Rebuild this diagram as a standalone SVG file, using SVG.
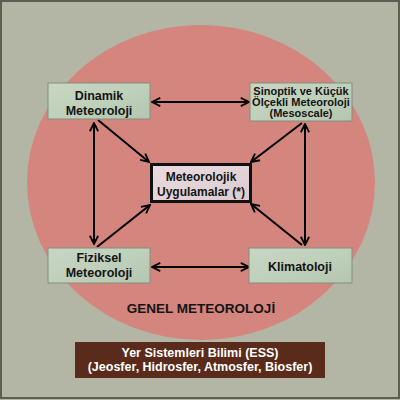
<svg xmlns="http://www.w3.org/2000/svg" width="400" height="400" viewBox="0 0 400 400">
<defs>
<style>
.t{font-family:"Liberation Sans",Arial,sans-serif;font-weight:bold;fill:#141414;text-anchor:middle}
.w{font-family:"Liberation Sans",Arial,sans-serif;font-weight:bold;fill:#ffffff;text-anchor:middle;font-size:12.5px}
.node{fill:url(#ng);stroke:#7f8f7c;stroke-width:1}
.c{stroke:#000;stroke-width:2;fill:none}
</style>
<linearGradient id="ng" x1="0" y1="0" x2="1" y2="1">
<stop offset="0" stop-color="#c9d6c3"/>
<stop offset="0.5" stop-color="#bfd0bb"/>
<stop offset="1" stop-color="#b5c6b0"/>
</linearGradient>
<linearGradient id="cg" x1="0" y1="0" x2="1" y2="1">
<stop offset="0" stop-color="#e9dce0"/>
<stop offset="1" stop-color="#dccbd0"/>
</linearGradient>
<marker id="ah2" viewBox="0 0 12 12" refX="11" refY="6" markerWidth="11" markerHeight="11" orient="auto-start-reverse" markerUnits="userSpaceOnUse">
<path d="M2,1.5 L11,6 L2,10.5" fill="none" stroke="#000" stroke-width="2"/>
</marker>
</defs>
<rect x="0" y="0" width="400" height="400" fill="#b4b6a5"/>
<rect x="1" y="1" width="398" height="397" fill="none" stroke="#5e5e52" stroke-width="2"/>
<ellipse cx="201" cy="182.5" rx="174" ry="157.5" fill="#d4857e"/>
<g id="connectors">
<line class="c" x1="152" y1="102" x2="249" y2="102" marker-start="url(#ah2)" marker-end="url(#ah2)"/>
<line class="c" x1="152" y1="267" x2="249" y2="267" marker-start="url(#ah2)" marker-end="url(#ah2)"/>
<line class="c" x1="94" y1="123" x2="94" y2="244" marker-start="url(#ah2)" marker-end="url(#ah2)"/>
<line class="c" x1="305" y1="124" x2="305" y2="245" marker-start="url(#ah2)" marker-end="url(#ah2)"/>
<line class="c" x1="98" y1="120" x2="149" y2="162" marker-end="url(#ah2)"/>
<line class="c" x1="302" y1="123" x2="251" y2="162" marker-end="url(#ah2)"/>
<line class="c" x1="97" y1="247" x2="150" y2="205" marker-end="url(#ah2)"/>
<line class="c" x1="302" y1="245" x2="251" y2="204" marker-end="url(#ah2)"/>
</g>
<g id="dinamik">
<rect class="node" x="48" y="83" width="102" height="36"/>
<text class="t" x="99" y="99.5" font-size="12.5">Dinamik</text>
<text class="t" x="99" y="114.5" font-size="12.5">Meteoroloji</text>
</g>
<g id="sinoptik">
<rect class="node" x="250" y="83" width="102" height="38"/>
<text class="t" x="301" y="95" font-size="11">Sinoptik ve Küçük</text>
<text class="t" x="301" y="106" font-size="11">Ölçekli Meteoroloji</text>
<text class="t" x="301" y="117" font-size="11">(Mesoscale)</text>
</g>
<g id="fiziksel">
<rect class="node" x="48" y="248" width="102" height="35"/>
<text class="t" x="99" y="261.5" font-size="12.5">Fiziksel</text>
<text class="t" x="99" y="276.5" font-size="12.5">Meteoroloji</text>
</g>
<g id="klimatoloji">
<rect class="node" x="249" y="248" width="103" height="35"/>
<text class="t" x="300" y="270.5" font-size="12.5">Klimatoloji</text>
</g>
<g id="uygulamalar">
<rect x="151.5" y="164.5" width="99" height="37" fill="url(#cg)" stroke="#111" stroke-width="3"/>
<text class="t" x="201" y="181" font-size="12">Meteorolojik</text>
<text class="t" x="201" y="196" font-size="12">Uygulamalar (*)</text>
</g>
<g id="genel">
<text class="t" x="201" y="313" font-size="13.5">GENEL METEOROLOJİ</text>
</g>
<g id="ess">
<rect x="75" y="342" width="250" height="36" fill="#5a2b1a"/>
<text class="w" x="200" y="357">Yer Sistemleri Bilimi (ESS)</text>
<text class="w" x="200" y="370.5">(Jeosfer, Hidrosfer, Atmosfer, Biosfer)</text>
</g>
</svg>
